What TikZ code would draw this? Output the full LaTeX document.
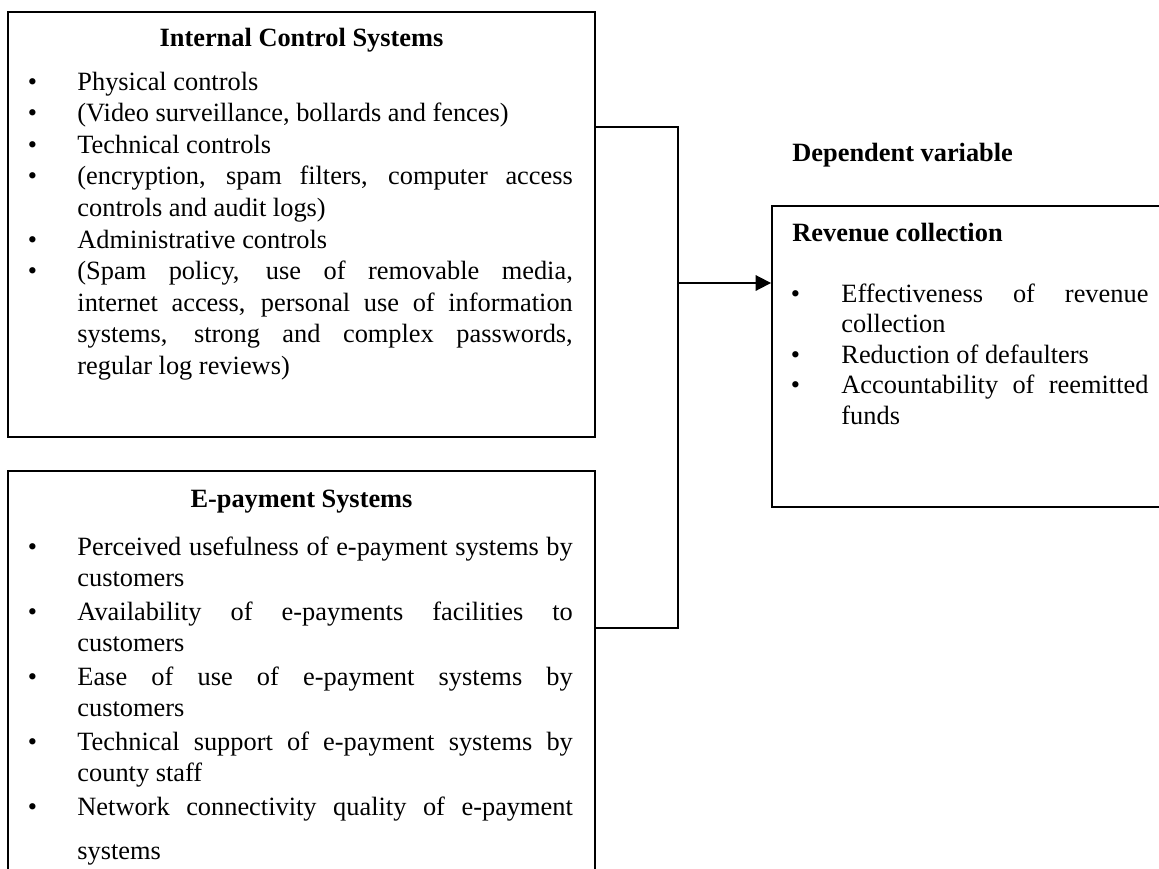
\documentclass[tikz,border=0pt]{standalone}
\usepackage{fontspec}
\setmainfont{Liberation Serif}
\usetikzlibrary{arrows.meta,fit}
\newlength\pxu \setlength\pxu{0.455pt}
\newlength\hangw
\newcommand{\bul}{\par\noindent\hangindent=\hangw\hangafter=1\makebox[\hangw][l]{\textbullet}\ignorespaces}
\newcommand{\bl}{\linebreak}
\newcommand{\listsetup}[3]{\setlength\hangw{#1\pxu}\fontsize{12pt}{14pt}\selectfont
  \setlength\baselineskip{#2\pxu}\setlength\parskip{#3\pxu}\setlength\parindent{0pt}%
  \hyphenpenalty=10000 \exhyphenpenalty=10000 \tolerance=10000 }
\tikzset{
  boxstyle/.style={draw, line width=0.85pt, inner sep=0pt},
  conn/.style={line width=0.85pt},
  titlestyle/.style={inner sep=0pt, font=\fontsize{12pt}{14pt}\selectfont\bfseries},
  liststyle/.style={inner sep=0pt, anchor=base west},
}
\begin{document}
\begin{tikzpicture}[x=0.455pt, y=-0.455pt]
\useasboundingbox (0,0) rectangle (1159,869);
\fill[white] (0,0) rectangle (1159,869);
\clip (0,0) rectangle (1159,869);

% boxes
\node[boxstyle, fit={(8,12) (595,437)}] (ics) {};
\node[boxstyle, fit={(8,471) (595,900)}] (eps) {};
\node[boxstyle, fit={(772,206) (1180,507)}] (rev) {};

% titles
\node[titlestyle, anchor=base] (icstitle) at (301.5,46) {Internal Control Systems};
\node[titlestyle, anchor=base] (epstitle) at (301.5,507) {E-payment Systems};
\node[titlestyle, anchor=base west] (dv) at (792,161) {Dependent variable};
\node[titlestyle, anchor=base west] (revtitle) at (792,241) {Revenue collection};

% lists
\node[liststyle] (icslist) at (27.4,90) {\begin{minipage}[t]{545\pxu}\listsetup{49.6}{31.6}{0}%
\bul Physical controls
\bul (Video surveillance, bollards and fences)
\bul Technical controls
\bul (encryption, spam filters, computer access\bl controls and audit logs)
\bul Administrative controls
\bul (Spam policy, use of removable media,\bl internet access, personal use of information\bl systems, strong and complex passwords,\bl regular log reviews)
\end{minipage}};

\node[liststyle] (epslist) at (27.4,555) {\begin{minipage}[t]{545\pxu}\listsetup{49.6}{31.5}{2}%
\bul Perceived usefulness of e-payment systems by\bl customers
\bul Availability of e-payments facilities to\bl customers
\bul Ease of use of e-payment systems by\bl customers
\bul Technical support of e-payment systems by\bl county staff
\bul Network connectivity quality of e-payment\vadjust{\vskip 12.5\pxu}\bl systems
\end{minipage}};

\node[liststyle] (revlist) at (790.4,302) {\begin{minipage}[t]{357.6\pxu}\listsetup{50.6}{30.5}{0}%
\bul Effectiveness of revenue\bl collection
\bul Reduction of defaulters
\bul Accountability of reemitted\bl funds
\end{minipage}};

% connectors
\coordinate (jt) at (678,127);
\coordinate (jb) at (678,628);
\coordinate (ja) at (678,283);
\draw[conn] (ics.east |- jt) -- (jt) -- (jb) -- (eps.east |- jb);
\draw[conn, -{Triangle[length=7pt, width=7pt]}] (ja) -- (rev.west |- ja);
\end{tikzpicture}
\end{document}
